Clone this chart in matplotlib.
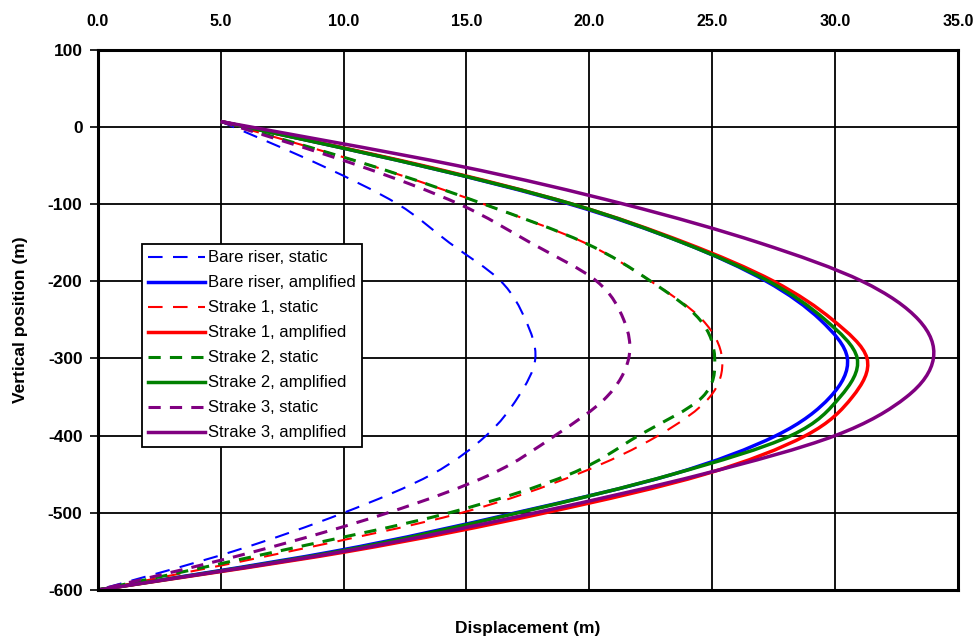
import matplotlib
matplotlib.use("Agg")
import matplotlib.pyplot as plt
from matplotlib.path import Path
from matplotlib.patches import PathPatch
from matplotlib.lines import Line2D
import numpy as np

plt.rcParams['font.family'] = ['Liberation Sans', 'DejaVu Sans']
plt.rcParams['axes.unicode_minus'] = False

# vertical positions (m)
y_pos = [7, -50, -100, -150, -200, -250, -300, -350, -400, -450, -500, -550, -600]

# displacements (m) at each vertical position
bare_static   = [5.0,  9.1, 12.2, 14.3, 16.4, 17.4, 17.8, 17.1, 15.8, 13.6, 10.0, 5.5, 0.0]
bare_amp      = [5.0, 13.1, 19.2, 23.8, 27.2, 29.4, 30.5, 29.8, 27.6, 23.4, 17.0, 9.6, 0.0]
strake1_static= [5.0, 11.1, 15.7, 19.8, 22.5, 24.6, 25.4, 24.9, 22.8, 19.5, 14.8, 7.8, 0.0]
strake1_amp   = [5.0, 13.2, 19.3, 23.9, 27.5, 29.9, 31.3, 30.7, 28.8, 24.7, 18.2, 10.2, 0.0]
strake2_static= [5.0, 11.1, 15.7, 19.8, 22.5, 24.5, 25.1, 24.6, 22.0, 19.2, 14.3, 7.3, 0.0]
strake2_amp   = [5.0, 13.1, 19.3, 23.8, 27.3, 29.6, 30.9, 30.2, 28.2, 23.4, 17.1, 9.8, 0.0]
strake3_static= [5.0, 10.6, 14.7, 17.6, 20.3, 21.4, 21.6, 20.7, 18.6, 16.0, 11.8, 6.4, 0.0]
strake3_amp   = [5.0, 14.6, 21.4, 26.9, 31.1, 33.4, 34.0, 32.9, 30.0, 24.6, 17.8, 10.0, 0.0]

labels = ["Bare riser, static", "Bare riser, amplified",
          "Strake 1, static", "Strake 1, amplified",
          "Strake 2, static", "Strake 2, amplified",
          "Strake 3, static", "Strake 3, amplified"]

x_ticks = [0, 5, 10, 15, 20, 25, 30, 35]
y_ticks = [100, 0, -100, -200, -300, -400, -500, -600]


def smooth_path(xs, ys):
    """Excel-style smoothed line: Catmull-Rom Bezier through the data points."""
    P = np.column_stack([xs, ys]).astype(float)
    n = len(P)
    verts = [P[0]]
    codes = [Path.MOVETO]
    for i in range(n - 1):
        p0 = P[i - 1] if i > 0 else P[i]
        p1 = P[i]
        p2 = P[i + 1]
        p3 = P[i + 2] if i + 2 < n else P[i + 1]
        c1 = p1 + (p2 - p0) / 6.0
        c2 = p2 - (p3 - p1) / 6.0
        verts += [c1, c2, p2]
        codes += [Path.CURVE4] * 3
    return Path(verts, codes)


fig = plt.figure(figsize=(9.79, 6.39), dpi=100)
ax = fig.add_axes([0.1, 0.0767, 0.8785, 0.8455])

series = [
    (bare_static, '#0000FF', (0, (7, 5)), 1.5),
    (bare_amp, '#0000FF', '-', 2.5),
    (strake1_static, '#FF0000', (0, (7, 5)), 1.5),
    (strake1_amp, '#FF0000', '-', 2.5),
    (strake2_static, '#008000', (0, (4, 3)), 2.2),
    (strake2_amp, '#008000', '-', 2.5),
    (strake3_static, '#800080', (0, (4, 3)), 2.2),
    (strake3_amp, '#800080', '-', 2.5),
]
handles = []
for (xs, c, ls, lw), lab in zip(series, labels):
    patch = PathPatch(smooth_path(xs, y_pos), facecolor='none', edgecolor=c,
                      linestyle=ls, linewidth=lw, transform=ax.transData,
                      capstyle='butt', zorder=3)
    ax.add_patch(patch)
    handles.append(Line2D([], [], color=c, linestyle=ls, linewidth=lw, label=lab))

ax.set_xlim(0, 35)
ax.set_ylim(-600, 100)
ax.set_xticks(x_ticks)
ax.set_xticklabels([f"{v:.1f}" for v in x_ticks])
ax.set_yticks(y_ticks)
ax.xaxis.tick_top()
ax.xaxis.set_label_position('bottom')
ax.tick_params(axis='x', length=0, pad=15, labelsize=11.5)
ax.tick_params(axis='y', length=6, width=1.2, direction='out', pad=5, labelsize=12.5)
for lab in ax.get_xticklabels() + ax.get_yticklabels():
    lab.set_fontweight('bold')
ax.grid(True, color='black', linewidth=1.3)
ax.set_axisbelow(True)
for s in ax.spines.values():
    s.set_linewidth(2.2)
    s.set_color('black')
    s.set_zorder(5)

ax.set_xlabel("Displacement (m)", fontsize=12.5, fontweight='bold', labelpad=22)
ax.set_ylabel("Vertical position (m)", fontsize=12.5, fontweight='bold', labelpad=14)

leg = ax.legend(handles=handles, loc='upper left', bbox_to_anchor=(0.051, 0.641),
                fontsize=12, frameon=True, fancybox=False, edgecolor='black',
                framealpha=1, handlelength=3.4, handletextpad=0.15,
                labelspacing=0.6, borderpad=0.4, borderaxespad=0)
leg.get_frame().set_linewidth(1.3)
leg.set_zorder(6)

fig.savefig("out.png", dpi=100)
